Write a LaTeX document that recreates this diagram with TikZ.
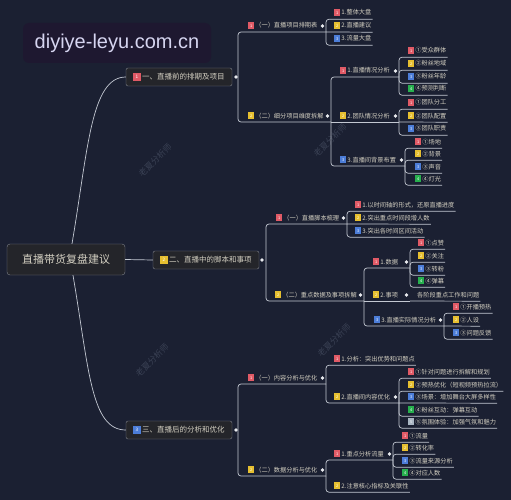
\documentclass[tikz,border=0pt]{standalone}
\usepackage{fontspec}
\usepackage{graphicx}
\setmainfont{Noto Sans CJK SC}
\newfontfamily\urlfont{Liberation Sans}

\definecolor{bg}{HTML}{1B2032}
\definecolor{lnk}{HTML}{C3C8D2}
\definecolor{txt}{HTML}{D4D0C2}
\definecolor{boxfill}{HTML}{24252A}
\definecolor{boxline}{HTML}{80838C}
\definecolor{knobc}{HTML}{E8EAEE}
\definecolor{wm}{HTML}{3A4154}
\definecolor{urlbg}{HTML}{1E1830}
\definecolor{urltxt}{HTML}{D6D5F0}
\definecolor{bred}{HTML}{E05A66}
\definecolor{byel}{HTML}{E6BF30}
\definecolor{bblu}{HTML}{4C7DD8}
\definecolor{bgrn}{HTML}{27B04E}
\definecolor{bgry}{HTML}{A9B5C2}

% small numbered badge in front of a topic
\newcommand{\bdg}[2]{\raisebox{-0.05em}{\fboxsep=0.14em\colorbox{#1}{\makebox[0.68em]{\rule{0pt}{0.8em}\raisebox{0.15em}{\color{white}\scalebox{0.62}{#2}}}}}\hspace{0.2em}}

\begin{document}
\begin{tikzpicture}[x=1pt,y=-1pt,
    link/.style={draw=lnk,line width=0.7pt,rounded corners=3pt},
    leaf/.style={anchor=west,inner xsep=1pt,inner ysep=3pt,text height=5pt,text depth=1pt,
      text=txt,font=\fontsize{6.2}{7}\selectfont},
    knob/.style={circle,fill=knobc,inner sep=0pt,minimum size=3.6pt},
    topic/.style={draw=boxline,fill=boxfill,rounded corners=2pt,text=txt,inner sep=0pt,
      font=\fontsize{7.5}{8}\selectfont,minimum width=106pt,minimum height=18pt},
    wmark/.style={text=wm,rotate=45,font=\fontsize{8.5}{8.5}\selectfont}]

  \useasboundingbox (0,0) rectangle (511,500);
  \fill[bg] (0,0) rectangle (511,500);

  % watermarks
  \node[wmark] (wm1) at (155,160) {老夏分析师};
  \node[wmark] (wm2) at (330,140) {老夏分析师};
  \node[wmark] (wm3) at (334,340) {老夏分析师};
  \node[wmark] (wm4) at (152,360) {老夏分析师};

  \node[fill=urlbg,rounded corners=6pt,minimum width=188pt,minimum height=40pt,
    text=urltxt,font=\urlfont\fontsize{20}{20}\selectfont] (site) at (117,43) {diyiye-leyu.com.cn};

  % root and main topics
  \node[draw=boxline,fill=boxfill,rounded corners=3pt,minimum width=118pt,minimum height=31pt,
    text=txt,font=\fontsize{11}{12}\selectfont] (root) at (66,259.5) {直播带货复盘建议};
  \node[topic] (b1) at (179,77) {\bdg{bred}{1}一、直播前的排期及项目};
  \node[topic] (b2) at (206,260) {\bdg{byel}{2}二、直播中的脚本和事项};
  \node[topic] (b3) at (179,430) {\bdg{bblu}{3}三、直播后的分析和优化};

  \coordinate (b1-j) at (238,77);
  \coordinate (b2-j) at (266,260);
  \coordinate (b3-j) at (238,430);

  % branch 1
  \node[leaf] (b1a) at (247,26) {\bdg{bred}{1}（一）直播项目排期表};
  \coordinate (b1a-j) at (326,32);
  \node[leaf] (b1a1) at (333,13) {\bdg{bred}{1}1.整体大盘};
  \node[leaf] (b1a2) at (333,26) {\bdg{byel}{2}2.直播建议};
  \node[leaf] (b1a3) at (333,39) {\bdg{bblu}{3}3.流量大盘};

  \node[leaf] (b1b) at (247,116) {\bdg{byel}{2}（二）细分项目维度拆解};
  \coordinate (b1b-j) at (331,122);
  \node[leaf] (b1b1) at (339,71) {\bdg{bred}{1}1.直播情况分析};
  \coordinate (b1b1-j) at (399,77);
  \node[leaf] (b1b1a) at (407,51) {\bdg{bred}{1}①受众群体};
  \node[leaf] (b1b1b) at (407,64) {\bdg{byel}{2}②粉丝地域};
  \node[leaf] (b1b1c) at (407,77) {\bdg{bblu}{3}③粉丝年龄};
  \node[leaf] (b1b1d) at (407,89) {\bdg{bgrn}{4}④预测判断};
  \node[leaf] (b1b2) at (339,116) {\bdg{byel}{2}2.团队情况分析};
  \coordinate (b1b2-j) at (399,122);
  \node[leaf] (b1b2a) at (407,103) {\bdg{bred}{1}①团队分工};
  \node[leaf] (b1b2b) at (407,116) {\bdg{byel}{2}②团队配置};
  \node[leaf] (b1b2c) at (407,129) {\bdg{bblu}{3}③团队职责};
  \node[leaf] (b1b3) at (339,160) {\bdg{bblu}{3}3.直播间背景布置};
  \coordinate (b1b3-j) at (405,166);
  \node[leaf] (b1b3a) at (414,142) {\bdg{bred}{1}①场地};
  \node[leaf] (b1b3b) at (414,154) {\bdg{byel}{2}②背景};
  \node[leaf] (b1b3c) at (414,167) {\bdg{bblu}{3}③声音};
  \node[leaf] (b1b3d) at (414,179) {\bdg{bgrn}{4}④灯光};

  % branch 2
  \node[leaf] (b2a) at (275,218) {\bdg{bred}{1}（一）直播脚本梳理};
  \coordinate (b2a-j) at (347,224);
  \node[leaf] (b2a1) at (354,205) {\bdg{bred}{1}1.以时间轴的形式，还原直播进度};
  \node[leaf] (b2a2) at (354,218) {\bdg{byel}{2}2.突出重点时间段增人数};
  \node[leaf] (b2a3) at (354,231) {\bdg{bblu}{3}3.突出各时间区间活动};

  \node[leaf] (b2b) at (274,295) {\bdg{byel}{2}（二）重点数据及事项拆解};
  \coordinate (b2b-j) at (364,301);
  \node[leaf] (b2b1) at (372,262) {\bdg{bred}{1}1.数据};
  \coordinate (b2b1-j) at (410,268);
  \node[leaf] (b2b1a) at (417,243) {\bdg{bred}{1}①点赞};
  \node[leaf] (b2b1b) at (417,256) {\bdg{byel}{2}②关注};
  \node[leaf] (b2b1c) at (417,269) {\bdg{bblu}{3}③转粉};
  \node[leaf] (b2b1d) at (417,281) {\bdg{bgrn}{4}④弹幕};
  \node[leaf] (b2b2) at (372,295) {\bdg{byel}{2}2.事项};
  \coordinate (b2b2-j) at (410,301);
  \node[leaf] (b2b2a) at (416,295) {各阶段重点工作和问题};
  \node[leaf] (b2b3) at (373,320) {\bdg{bblu}{3}3.直播实际情况分析};
  \coordinate (b2b3-j) at (444,326);
  \node[leaf] (b2b3a) at (452,307) {\bdg{bred}{1}①开播预热};
  \node[leaf] (b2b3b) at (452,320) {\bdg{byel}{2}②人设};
  \node[leaf] (b2b3c) at (452,333) {\bdg{bblu}{3}③问题反馈};

  % branch 3
  \node[leaf] (b3a) at (247,378) {\bdg{bred}{1}（一）内容分析与优化};
  \coordinate (b3a-j) at (326,384);
  \node[leaf] (b3a1) at (333,359) {\bdg{bred}{1}1.分析：突出优势和问题点};
  \node[leaf] (b3a2) at (333,397) {\bdg{byel}{2}2.直播间内容优化};
  \coordinate (b3a2-j) at (399,403);
  \node[leaf] (b3a2a) at (407,372) {\bdg{bred}{1}①针对问题进行拆解和规划};
  \node[leaf] (b3a2b) at (407,385) {\bdg{byel}{2}②预热优化（短视频预热拉流）};
  \node[leaf] (b3a2c) at (407,397) {\bdg{bblu}{3}③场景：增加舞台大屏多样性};
  \node[leaf] (b3a2d) at (407,410) {\bdg{bgrn}{4}④粉丝互动：弹幕互动};
  \node[leaf] (b3a2e) at (407,422) {\bdg{bgry}{5}⑤氛围体验：加强气氛和魅力};

  \node[leaf] (b3b) at (247,470) {\bdg{byel}{2}（二）数据分析与优化};
  \coordinate (b3b-j) at (326,476);
  \node[leaf] (b3b1) at (333,454) {\bdg{bred}{1}1.重点分析流量};
  \coordinate (b3b1-j) at (393,460);
  \node[leaf] (b3b1a) at (401,436) {\bdg{bred}{1}①流量};
  \node[leaf] (b3b1b) at (401,448) {\bdg{byel}{2}②转化率};
  \node[leaf] (b3b1c) at (401,461) {\bdg{bblu}{3}③流量来源分析};
  \node[leaf] (b3b1d) at (401,473) {\bdg{bgrn}{4}④对应人数};
  \node[leaf] (b3b2) at (333,486) {\bdg{byel}{2}2.注意核心指标及关联性};

  % connectors
  \draw[link] ([xshift=6pt]root.north) .. controls +(16,-94) and +(-35,0) .. (b1.west);
  \draw[link] (root.east) -- (b2.west);
  \draw[link] ([xshift=7pt]root.south) .. controls +(16,94) and +(-35,0) .. (b3.west);

  \draw[link] (b1-j) |- (b1a-j);
  \draw[link] (b1-j) |- (b1b-j);
  \draw[link] (b1a-j) |- (b1a1.south east);
  \draw[link] (b1a-j) -- (b1a2.south east);
  \draw[link] (b1a-j) |- (b1a3.south east);
  \draw[link] (b1b-j) |- (b1b1-j);
  \draw[link] (b1b-j) -- (b1b2-j);
  \draw[link] (b1b-j) |- (b1b3-j);
  \foreach \c in {b1b1a,b1b1b,b1b1c,b1b1d}
    \draw[link] (b1b1-j) |- (\c.south east);
  \draw[link] (b1b2-j) |- (b1b2a.south east);
  \draw[link] (b1b2-j) -- (b1b2b.south east);
  \draw[link] (b1b2-j) |- (b1b2c.south east);
  \foreach \c in {b1b3a,b1b3b,b1b3c,b1b3d}
    \draw[link] (b1b3-j) |- (\c.south east);

  \draw[link] (b2-j) |- (b2a-j);
  \draw[link] (b2-j) |- (b2b-j);
  \draw[link] (b2a-j) |- (b2a1.south east);
  \draw[link] (b2a-j) -- (b2a2.south east);
  \draw[link] (b2a-j) |- (b2a3.south east);
  \draw[link] (b2b-j) |- (b2b1-j);
  \draw[link] (b2b-j) -- (b2b2-j);
  \draw[link] (b2b-j) |- (b2b3-j);
  \foreach \c in {b2b1a,b2b1b,b2b1c,b2b1d}
    \draw[link] (b2b1-j) |- (\c.south east);
  \draw[link] (b2b2-j) -- (b2b2a.south east);
  \draw[link] (b2b3-j) |- (b2b3a.south east);
  \draw[link] (b2b3-j) -- (b2b3b.south east);
  \draw[link] (b2b3-j) |- (b2b3c.south east);

  \draw[link] (b3-j) |- (b3a-j);
  \draw[link] (b3-j) |- (b3b-j);
  \draw[link] (b3a-j) |- (b3a1.south east);
  \draw[link] (b3a-j) |- (b3a2-j);
  \foreach \c in {b3a2a,b3a2b,b3a2d,b3a2e}
    \draw[link] (b3a2-j) |- (\c.south east);
  \draw[link] (b3a2-j) -- (b3a2c.south east);
  \draw[link] (b3b-j) |- (b3b1-j);
  \draw[link] (b3b-j) |- (b3b2.south east);
  \foreach \c in {b3b1a,b3b1b,b3b1c,b3b1d}
    \draw[link] (b3b1-j) |- (\c.south east);

  % collapse knobs
  \node[knob] (b1-k) at (236,77) {};
  \node[knob] (b2-k) at (262,260) {};
  \node[knob] (b3-k) at (236,430) {};
  \foreach \n in {b1a,b1b,b1b1,b1b2,b1b3,b2a,b2b,b2b1,b2b2,b2b3,b3a,b3a2,b3b,b3b1}
    \node[knob,xshift=-3.5pt] (\n-k) at (\n-j |- \n.east) {};

\end{tikzpicture}
\end{document}
